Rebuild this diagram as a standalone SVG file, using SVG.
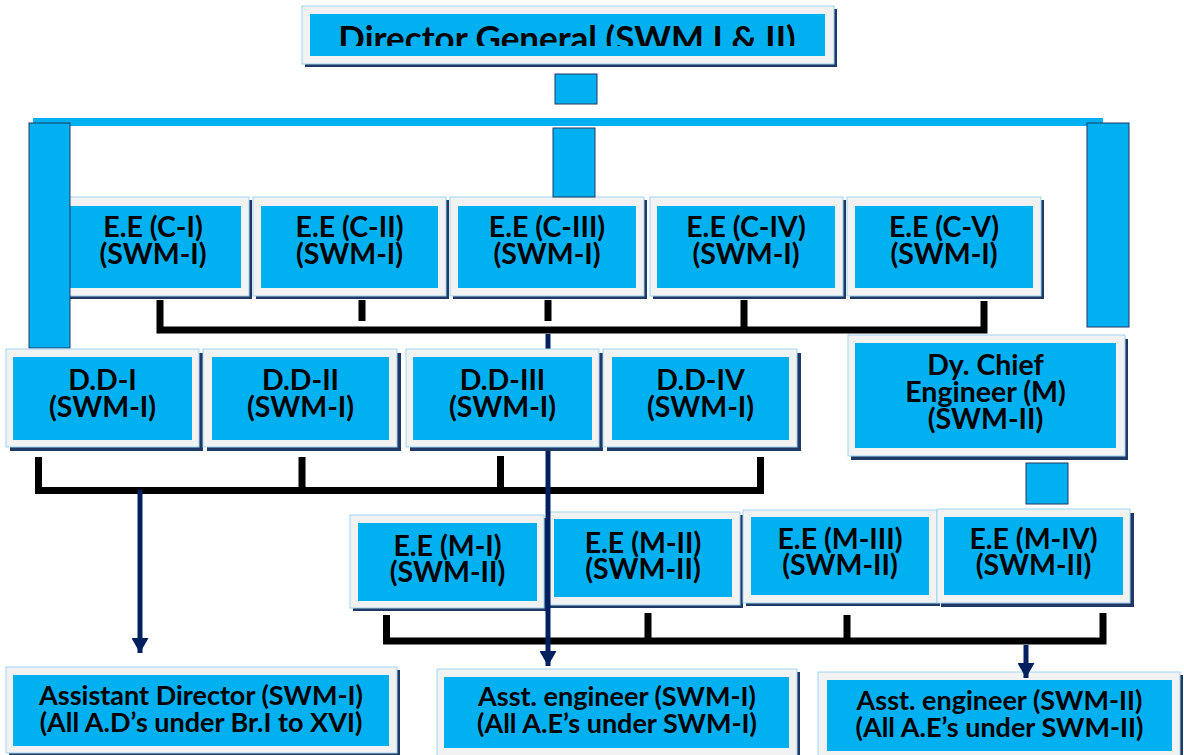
<svg xmlns="http://www.w3.org/2000/svg" width="1184" height="755" viewBox="0 0 1184 755">
<style>
.frame{fill:#F2F2F2;stroke:#9DD4F0;stroke-width:1}
.shadow{fill:#1F3864}
.fill{fill:#00B0F0}
.t{font-family:Lato,"Open Sans",sans-serif;font-weight:bold;fill:#000;text-anchor:middle;font-size:28.5px}
.s{font-size:27px}
.bar{fill:#00B0F0;stroke:#1F3864;stroke-width:1}
.bus{stroke:#000;stroke-width:7;fill:none;stroke-linejoin:miter}
.nav{stroke:#002060;stroke-width:5;fill:none}
</style>
<defs>
<marker id="ah" markerUnits="userSpaceOnUse" markerWidth="16" markerHeight="17" refX="15" refY="8.5" orient="auto">
<path d="M0,0 L15,8.5 L0,17 z" fill="#002060"/>
</marker>
<clipPath id="dgclip"><rect x="310" y="14" width="515" height="32"/></clipPath>
</defs>
<rect width="1184" height="755" fill="#fff"/>

<g id="dg">
<rect class="shadow" x="305" y="9" width="532" height="58"/>
<rect class="frame" x="302" y="6" width="532" height="58"/>
<rect class="fill" x="310" y="14" width="515" height="42"/>
<text class="t" x="567" y="51" style="font-size:35px" clip-path="url(#dgclip)">Director General (SWM I &amp; II)</text>
</g>

<g id="ee-c1">
<rect class="shadow" x="65" y="200" width="187" height="99"/>
<rect class="frame" x="62" y="197" width="187" height="99"/>
<rect class="fill" x="70" y="206" width="171" height="82"/>
<text class="t" x="153" y="237">E.E (C-I)<tspan x="153" dy="27">(SWM-I)</tspan></text>
</g>
<g id="ee-c2">
<rect class="shadow" x="256" y="200" width="193" height="99"/>
<rect class="frame" x="253" y="197" width="193" height="99"/>
<rect class="fill" x="261" y="206" width="177" height="82"/>
<text class="t" x="349.5" y="237">E.E (C-II)<tspan x="349.5" dy="27">(SWM-I)</tspan></text>
</g>
<g id="ee-c3">
<rect class="shadow" x="453" y="200" width="194" height="99"/>
<rect class="frame" x="450" y="197" width="194" height="99"/>
<rect class="fill" x="458" y="206" width="178" height="82"/>
<text class="t" x="547" y="237">E.E (C-III)<tspan x="547" dy="27">(SWM-I)</tspan></text>
</g>
<g id="ee-c4">
<rect class="shadow" x="653" y="200" width="193" height="99"/>
<rect class="frame" x="650" y="197" width="193" height="99"/>
<rect class="fill" x="657" y="206" width="178" height="82"/>
<text class="t" x="746" y="237">E.E (C-IV)<tspan x="746" dy="27">(SWM-I)</tspan></text>
</g>
<g id="ee-c5">
<rect class="shadow" x="850" y="200" width="194" height="99"/>
<rect class="frame" x="847" y="197" width="194" height="99"/>
<rect class="fill" x="855" y="206" width="178" height="82"/>
<text class="t" x="944" y="237">E.E (C-V)<tspan x="944" dy="27">(SWM-I)</tspan></text>
</g>

<g id="ee-m1">
<rect class="shadow" x="353" y="518" width="194" height="93"/>
<rect class="frame" x="350" y="515" width="194" height="93"/>
<rect class="fill" x="358" y="523" width="179" height="78"/>
<text class="t" x="447.5" y="556">E.E (M-I)<tspan x="447.5" dy="26">(SWM-II)</tspan></text>
</g>
<g id="ee-m2">
<rect class="shadow" x="550" y="515" width="193" height="93"/>
<rect class="frame" x="547" y="512" width="193" height="93"/>
<rect class="fill" x="554" y="519" width="178" height="78"/>
<text class="t" x="643" y="553">E.E (M-II)<tspan x="643" dy="26">(SWM-II)</tspan></text>
</g>
<g id="ee-m3">
<rect class="shadow" x="746" y="513" width="194" height="93"/>
<rect class="frame" x="743" y="510" width="194" height="93"/>
<rect class="fill" x="751" y="517" width="178" height="78"/>
<text class="t" x="840" y="549">E.E (M-III)<tspan x="840" dy="26">(SWM-II)</tspan></text>
</g>
<g id="ee-m4">
<rect class="shadow" x="941" y="513" width="193" height="94"/>
<rect class="frame" x="937" y="509" width="193" height="94"/>
<rect class="fill" x="944" y="517" width="179" height="78"/>
<text class="t" x="1033.5" y="549">E.E (M-IV)<tspan x="1033.5" dy="26">(SWM-II)</tspan></text>
</g>

<g id="ad">
<rect class="shadow" x="9" y="670" width="391" height="86"/>
<rect class="frame" x="6" y="667" width="391" height="86"/>
<rect class="fill" x="13" y="675" width="376" height="71"/>
<text class="t s" x="201" y="705">Assistant Director (SWM-I)<tspan x="201" dy="27">(All A.D’s under Br.I to XVI)</tspan></text>
</g>
<g id="ae1">
<rect class="shadow" x="440" y="672" width="360" height="90"/>
<rect class="frame" x="437" y="669" width="360" height="90"/>
<rect class="fill" x="444" y="677" width="345" height="71"/>
<text class="t s" x="617" y="706">Asst. engineer (SWM-I)<tspan x="617" dy="27">(All A.E’s under SWM-I)</tspan></text>
</g>
<g id="ae2">
<rect class="shadow" x="821" y="675" width="362" height="90"/>
<rect class="frame" x="818" y="672" width="362" height="90"/>
<rect class="fill" x="827" y="680" width="345" height="71"/>
<text class="t s" x="999.5" y="710">Asst. engineer (SWM-II)<tspan x="999.5" dy="27">(All A.E’s under SWM-II)</tspan></text>
</g>

<g id="connectors">
<rect class="bar" x="555" y="74" width="42" height="30"/>
<rect class="fill" x="33" y="118" width="1070" height="8"/>
<rect class="bar" x="29" y="123" width="41" height="225"/>
<rect class="bar" x="1087" y="123" width="42" height="204"/>
<rect class="bar" x="553" y="128" width="42" height="69"/>
<rect class="bar" x="1026" y="463" width="42" height="41"/>
<path class="bus" d="M160,300 V330 H984 V301"/>
<path class="bus" d="M362,300 V321 M548,300 V321 M744,300 V330"/>
<path class="bus" d="M38.5,457 V490.5 H760.5 V457"/>
<path class="bus" d="M302,457 V490 M500.5,456 V490"/>
<path class="bus" d="M386.5,615 V641 H1103 V613"/>
<path class="bus" d="M648,613 V641 M847,615 V641"/>
<path class="nav" d="M140,490 V653" marker-end="url(#ah)"/>
<path class="nav" d="M548,334 V666" marker-end="url(#ah)"/>
<path class="nav" d="M1026,645 V678" marker-end="url(#ah)"/>
</g>

<g id="dd1">
<rect class="shadow" x="10" y="353" width="193" height="98"/>
<rect class="frame" x="6" y="349" width="193" height="98"/>
<rect class="fill" x="13" y="357" width="179" height="83"/>
<text class="t" x="102.5" y="390">D.D-I<tspan x="102.5" dy="27">(SWM-I)</tspan></text>
</g>
<g id="dd2">
<rect class="shadow" x="207" y="353" width="194" height="98"/>
<rect class="frame" x="203" y="349" width="194" height="98"/>
<rect class="fill" x="212" y="357" width="177" height="83"/>
<text class="t" x="300.5" y="390">D.D-II<tspan x="300.5" dy="27">(SWM-I)</tspan></text>
</g>
<g id="dd3">
<rect class="shadow" x="410" y="353" width="193" height="98"/>
<rect class="frame" x="406" y="349" width="193" height="98"/>
<rect class="fill" x="413" y="357" width="179" height="83"/>
<text class="t" x="502.5" y="390">D.D-III<tspan x="502.5" dy="27">(SWM-I)</tspan></text>
</g>
<g id="dd4">
<rect class="shadow" x="607" y="353" width="194" height="98"/>
<rect class="frame" x="603" y="349" width="194" height="98"/>
<rect class="fill" x="612" y="357" width="177" height="83"/>
<text class="t" x="700.5" y="390">D.D-IV<tspan x="700.5" dy="27">(SWM-I)</tspan></text>
</g>
<g id="dce">
<rect class="shadow" x="851" y="339" width="277" height="121"/>
<rect class="frame" x="848" y="335" width="277" height="121"/>
<rect class="fill" x="855" y="343" width="261" height="105"/>
<text class="t" x="985.5" y="375">Dy. Chief<tspan x="985.5" dy="27">Engineer (M)</tspan><tspan x="985.5" dy="27">(SWM-II)</tspan></text>
</g>
</svg>
